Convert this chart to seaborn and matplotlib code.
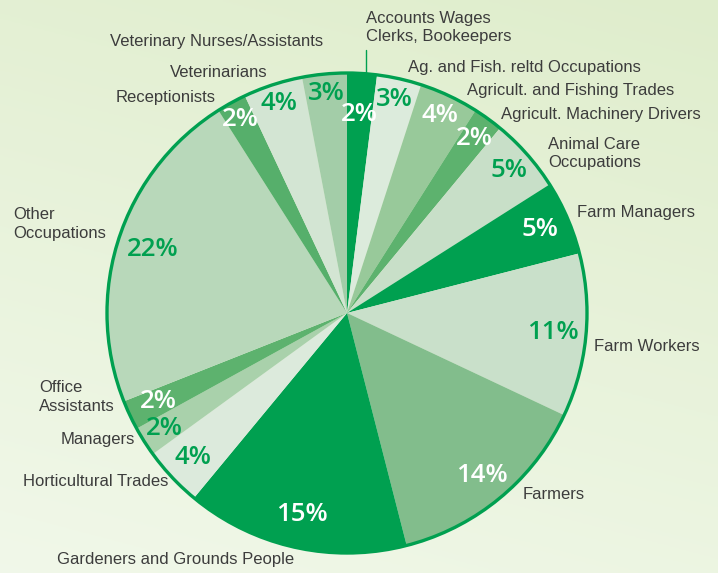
import numpy as np
import matplotlib
matplotlib.use("Agg")
import matplotlib.pyplot as plt
import seaborn as sns

# occupations, clockwise from 12 o'clock
occupations = ["Accounts Wages\nClerks, Bookeepers", "Ag. and Fish. reltd Occupations",
               "Agricult. and Fishing Trades", "Agricult. Machinery Drivers",
               "Animal Care\nOccupations", "Farm Managers", "Farm Workers", "Farmers",
               "Gardeners and Grounds People", "Horticultural Trades", "Managers",
               "Office\nAssistants", "Other\nOccupations", "Receptionists",
               "Veterinarians", "Veterinary Nurses/Assistants"]
shares = [2, 3, 4, 2, 5, 5, 11, 14, 15, 4, 2, 2, 22, 2, 4, 3]

slice_colors = ["#00a050", "#dcebdc", "#98c99a", "#5db26e", "#c8dfc8", "#00a050",
                "#c9e0ca", "#82bd8c", "#00a050", "#dceadc", "#a9d1ab", "#5db26e",
                "#b8d8ba", "#56af6b", "#d3e5d3", "#a3cda8"]
white_pct = [True, False, True, True, False, True, False, True, True, False,
             False, True, False, True, False, False]
pct_dist = [0.83, 0.91, 0.91, 0.9, 0.9, 0.875, 0.86, 0.88, 0.86, 0.88,
            0.9, 0.87, 0.85, 0.92, 0.92, 0.92]

# label anchors in pie-radius units (layout only)
label_pos = [(0.079, 1.19, "left"), (0.254, 1.021, "left"), (0.5, 0.929, "left"),
             (0.642, 0.829, "left"), (0.8375, 0.665, "left"), (0.958, 0.417, "left"),
             (1.029, -0.1375, "left"), (0.733, -0.758, "left"), (-1.208, -1.029, "left"),
             (-0.746, -0.704, "right"), (-0.883, -0.529, "right"), (-1.283, -0.35, "left"),
             (-1.392, 0.371, "left"), (-0.546, 0.896, "right"), (-0.329, 1.004, "right"),
             (-0.1, 1.133, "right")]

GREEN = "#00a050"
sns.set_theme(style="white")
plt.rcParams["font.family"] = ["Liberation Sans", "DejaVu Sans"]

fig = plt.figure(figsize=(7.18, 5.73), dpi=100)

# soft background gradient, greener at the top right
bg = fig.add_axes([0, 0, 1, 1])
xx, yy = np.meshgrid(np.linspace(0, 1, 200), np.linspace(0, 1, 200))
t = np.clip(0.75 * yy + 0.25 * (1 - xx), 0, 1)
c_top = np.array([0.875, 0.93, 0.80])
c_bot = np.array([0.945, 0.972, 0.915])
img = c_top[None, None, :] * (1 - t[..., None]) + c_bot[None, None, :] * t[..., None]
bg.imshow(img, extent=[0, 1, 0, 1], aspect="auto", origin="upper")
bg.axis("off")

ax = fig.add_axes([0, 0, 1, 1])
ax.set_facecolor("none")
wedges, _ = ax.pie(shares, colors=slice_colors, startangle=90, counterclock=False,
                   radius=1, center=(0, 0), wedgeprops=dict(linewidth=0))
ax.add_patch(plt.Circle((0, 0), 1.0, fill=False, edgecolor=GREEN, linewidth=2.4))

for w, s, d, wp in zip(wedges, shares, pct_dist, white_pct):
    ang = np.deg2rad((w.theta1 + w.theta2) / 2)
    ax.text(d * np.cos(ang), d * np.sin(ang), f"{s}%", ha="center", va="center",
            fontsize=18.5, fontweight="semibold", family=["Open Sans", "DejaVu Sans"],
            color="white" if wp else GREEN)

for name, (lx, ly, ha) in zip(occupations, label_pos):
    ax.text(lx, ly, name, ha=ha, va="center", fontsize=12, color="#3c3c3c",
            linespacing=1.3)

# leader for the first slice
ax.plot([0.079, 0.079], [1.0, 1.096], color=GREEN, lw=1)

ax.set_xlim(-347 / 240, (718 - 347) / 240)
ax.set_ylim(-(573 - 313) / 240, 313 / 240)
ax.set_aspect("equal")
ax.axis("off")

fig.savefig("out.png", dpi=100)
